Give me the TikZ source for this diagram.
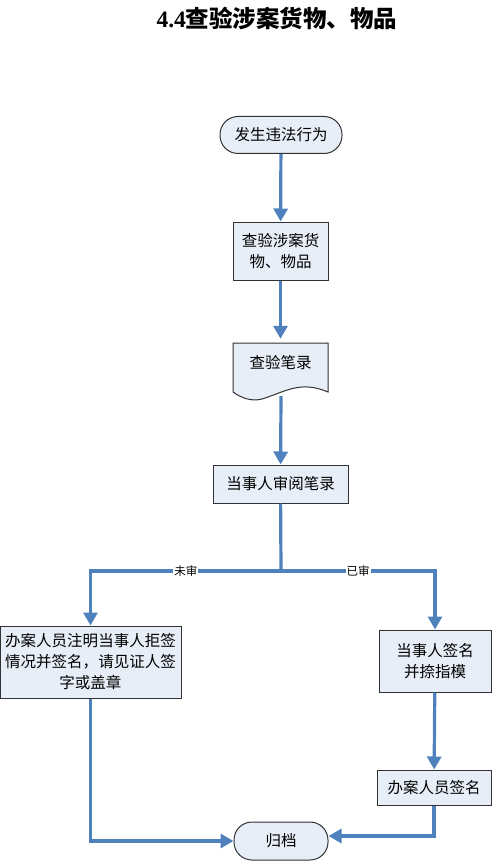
\documentclass[tikz,border=0pt]{standalone}
\usepackage{fontspec}
\setmainfont{Noto Sans CJK SC}
\newfontfamily\titlelatin{Liberation Serif}
\usepackage{xcolor}
\usepackage{tikz}
\usetikzlibrary{positioning,arrows.meta}

\definecolor{flowblue}{RGB}{79,129,189}
\definecolor{boxfill}{RGB}{232,238,247}
\definecolor{boxline}{RGB}{50,50,50}

\tikzset{
    box/.style={rectangle, draw=boxline, line width=1pt, fill=boxfill, align=center, inner sep=2pt, font=\fontsize{15.5}{21}\selectfont},
    terminal/.style={box, rounded corners=18pt},
    flow/.style={draw=flowblue, line width=3.2pt, -{Triangle[length=13pt,width=14pt]}},
    flowline/.style={draw=flowblue, line width=3.2pt},
    branchlabel/.style={fill=white, inner sep=1pt, font=\fontsize{11.5}{12}\selectfont}
}

\begin{document}
\begin{tikzpicture}[x=1pt,y=-1pt]
    \useasboundingbox (0,0) rectangle (493,861);
    \node(title) at (277,18) [font=\fontsize{23.5}{25}\selectfont\bfseries]{{\titlelatin 4.4}查验涉案货物、物品};

    \node(event) at (281,135) [terminal, minimum width=122pt, minimum height=37pt]{发生违法行为};
    \node(inspect) at (280.5,251) [box, minimum width=95pt, minimum height=58pt]{查验涉案货\\物、物品};
    \node(record) at (280.5,367) [minimum width=95pt, minimum height=48pt, font=\fontsize{15.5}{21}\selectfont, yshift=4pt]{};
    \node(review) at (280.5,484) [box, minimum width=135pt, minimum height=38pt]{当事人审阅笔录};
    \node(refuse) at (90.5,662) [box, minimum width=181pt, minimum height=72pt]{办案人员注明当事人拒签\\情况并签名，请见证人签\\字或盖章};
    \node(sign) at (435,661) [box, minimum width=112pt, minimum height=62pt]{当事人签名\\并捺指模};
    \node(officer) at (434,787.5) [box, minimum width=114pt, minimum height=35pt]{办案人员签名};
    \node(archive) at (281,841) [terminal, minimum width=94pt, minimum height=38pt]{归档};

    % document shape for the record
    \draw[draw=boxline, line width=1pt, fill=boxfill] (233,343) -- (328,343) -- (328,392)
        .. controls (300,380) and (285,392) .. (262,399)
        .. controls (250,402) and (240,397) .. (233,392) -- cycle;
    \node(recordtext) at (280.5,363) [font=\fontsize{15.5}{21}\selectfont]{查验笔录};

    \coordinate(split) at (281,571);
    \coordinate(recordout) at (281,396);

    \draw[flow] (event) -- (inspect);
    \draw[flow] (inspect) -- (record.north);
    \draw[flow] (recordout) -- (review);
    \draw[flowline] (review) -- (split);
    \draw[flow] (split) -| node[branchlabel, pos=0.25]{未审} (refuse);
    \draw[flow] (split) -| node[branchlabel, pos=0.25]{已审} (sign);
    \draw[flow] (sign) -- (officer);
    \draw[flow] (refuse) |- (archive);
    \draw[flow] (officer) |- ([yshift=5pt]archive.east);
\end{tikzpicture}
\end{document}
